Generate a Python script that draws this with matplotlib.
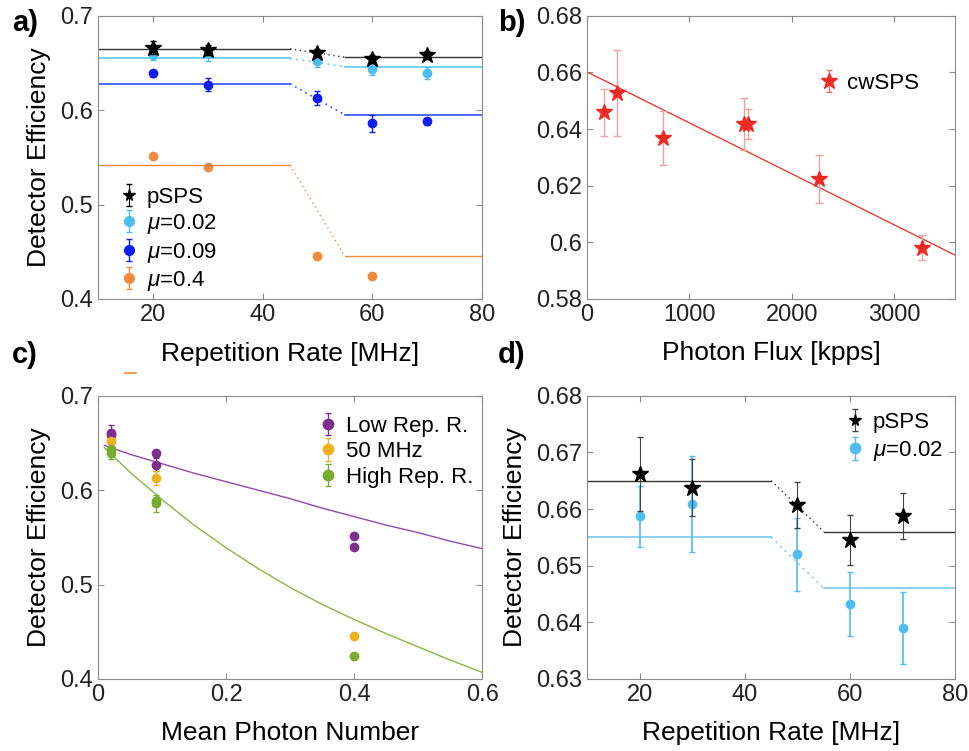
import numpy as np
import matplotlib
matplotlib.use("Agg")
import matplotlib.pyplot as plt
from matplotlib.lines import Line2D

plt.rcParams['font.family'] = ['Liberation Sans', 'DejaVu Sans']
plt.rcParams['mathtext.fontset'] = 'custom'
plt.rcParams['mathtext.rm'] = 'Liberation Sans'
plt.rcParams['mathtext.it'] = 'Liberation Sans:italic'
plt.rcParams['xtick.direction'] = 'in'
plt.rcParams['ytick.direction'] = 'in'

# ---- data ----
rate = [20, 30, 50, 60, 70]
psps = [0.6662, 0.6638, 0.6607, 0.6545, 0.6588]
psps_err = [0.0066, 0.0050, 0.0040, 0.0044, 0.0041]
mu002 = [0.6587, 0.6609, 0.6520, 0.6432, 0.6390]
mu002_err = [0.0054, 0.0085, 0.0064, 0.0057, 0.0063]
mu009 = [0.639, 0.627, 0.6125, 0.586, 0.588]
mu009_err = [0.004, 0.007, 0.0075, 0.009, 0.004]
rate_04 = [20, 30, 50, 60]
mu04 = [0.551, 0.540, 0.4455, 0.4247]
mu04_err = [0.002, 0.002, 0.003, 0.002]

# plateau levels (low rate, high rate) and transition points
step_x = [10, 45, 55, 80]
psps_lvl = [0.665, 0.656]
mu002_lvl = [0.655, 0.646]
mu009_lvl = [0.628, 0.595]
mu04_lvl = [0.542, 0.445]

# cw source
flux = [163, 296, 746, 1531, 1573, 2270, 3274]
cw_eff = [0.6459, 0.6526, 0.6368, 0.6418, 0.6418, 0.6224, 0.5981]
cw_err = [0.0083, 0.0152, 0.0094, 0.0093, 0.0052, 0.0086, 0.0045]
flux_fit = [0, 3600]
eff_fit = [0.6602, 0.5954]

# mean photon number
mu_vals = [0.02, 0.09, 0.4]
curve_mu = [0.01, 0.05, 0.1, 0.15, 0.2, 0.25, 0.3, 0.35, 0.4, 0.45, 0.5,
            0.55, 0.6]
low_curve = [0.6475, 0.638, 0.628, 0.618, 0.609, 0.600, 0.591, 0.581,
             0.572, 0.563, 0.555, 0.546, 0.538]
high_curve = [0.645, 0.619, 0.590, 0.563, 0.539, 0.517, 0.497, 0.479,
              0.463, 0.448, 0.434, 0.420, 0.407]

c_black = '#000000'
c_cyan = '#4DBEEE'
c_blue = '#0A1EF0'
c_orange = '#F08A3C'
c_red = '#EE2A24'
c_purple = '#7E2F8E'
c_yellow = '#EDB120'
c_green = '#77AC30'

fig = plt.figure(figsize=(9.7, 7.51), dpi=100)
ax_a = fig.add_axes([0.101, 0.602, 0.396, 0.377])
ax_b = fig.add_axes([0.605, 0.602, 0.380, 0.377])
ax_c = fig.add_axes([0.101, 0.096, 0.396, 0.377])
ax_d = fig.add_axes([0.605, 0.096, 0.380, 0.377])


def style(ax):
    for s in ax.spines.values():
        s.set_color('#8c8c8c')
        s.set_linewidth(0.8)
    ax.tick_params(labelsize=17, colors='#8c8c8c', labelcolor='#222222',
                   length=4, width=0.8, top=True, right=True)
    ax.xaxis.set_major_formatter(plt.FuncFormatter(lambda v, p: f'{v:g}'))
    ax.yaxis.set_major_formatter(plt.FuncFormatter(lambda v, p: f'{v:g}'))
    ax.xaxis.label.set_va('center')
    ax.yaxis.label.set_va('center')


def steps(ax, lvl, color, lw=1.0):
    ax.plot(step_x[0:2], [lvl[0], lvl[0]], color=color, lw=lw)
    ax.plot(step_x[1:3], lvl, color=color, lw=lw, ls=(0, (1, 2.5)))
    ax.plot(step_x[2:4], [lvl[1], lvl[1]], color=color, lw=lw)


def proxy(ax, fmt, color, ms, label, ecolor=None, lw=1.0):
    # legend-only handle with its own marker size
    return ax.errorbar([np.nan], [np.nan], yerr=[1], fmt=fmt, color=color,
                       ms=ms, ecolor=ecolor, capsize=2.5, elinewidth=lw,
                       label=label)


# ---- a) ----
steps(ax_a, psps_lvl, '#333333')
steps(ax_a, mu002_lvl, '#6CCBF2', lw=1.3)
steps(ax_a, mu009_lvl, '#3050F0', lw=1.2)
steps(ax_a, mu04_lvl, c_orange)
ax_a.errorbar(rate, mu002, yerr=mu002_err, fmt='o', color=c_cyan, ms=6,
              capsize=2.5, elinewidth=1, zorder=3)
ax_a.errorbar(rate, mu009, yerr=mu009_err, fmt='o', color=c_blue, ms=6,
              capsize=2.5, elinewidth=1, zorder=3)
ax_a.errorbar(rate_04, mu04, yerr=mu04_err, fmt='o', color=c_orange, ms=6,
              capsize=2.5, elinewidth=1, zorder=3)
ax_a.errorbar(rate, psps, yerr=psps_err, fmt='*', color=c_black, ms=12,
              capsize=2.5, elinewidth=0.8, zorder=4)
hs = [proxy(ax_a, '*', c_black, 8.5, 'pSPS', lw=0.8),
      proxy(ax_a, 'o', c_cyan, 7, r'$\mu$=0.02'),
      proxy(ax_a, 'o', c_blue, 7, r'$\mu$=0.09'),
      proxy(ax_a, 'o', c_orange, 7, r'$\mu$=0.4')]
ax_a.legend(handles=hs, loc='lower left', bbox_to_anchor=(0.005, -0.05),
            frameon=False, fontsize=16, handlelength=0.8, handletextpad=0.4,
            labelspacing=0.2)
ax_a.set_xlim(10, 80)
ax_a.set_ylim(0.4, 0.7)
ax_a.set_xticks([20, 40, 60, 80])
ax_a.set_yticks([0.4, 0.5, 0.6, 0.7])
ax_a.set_xlabel('Repetition Rate [MHz]', fontsize=19)
ax_a.set_ylabel('Detector Efficiency', fontsize=19)
style(ax_a)
ax_a.xaxis.set_label_coords(0.5, -0.195)
ax_a.yaxis.set_label_coords(-0.154, 0.5)

# ---- b) ----
ax_b.plot(flux_fit, eff_fit, color=c_red, lw=0.9)
ax_b.errorbar(flux, cw_eff, yerr=cw_err, fmt='*', color=c_red, ms=12,
              ecolor='#F4A0A0', capsize=3, elinewidth=1)
hb = [proxy(ax_b, '*', c_red, 12, 'cwSPS', ecolor='#F07070')]
ax_b.legend(handles=hb, loc='upper right', bbox_to_anchor=(0.955, 0.87),
            frameon=False, fontsize=16, handlelength=0.8, handletextpad=0.4)
ax_b.set_xlim(0, 3600)
ax_b.set_ylim(0.58, 0.68)
ax_b.set_xticks([0, 1000, 2000, 3000])
ax_b.set_yticks([0.58, 0.6, 0.62, 0.64, 0.66, 0.68])
ax_b.set_xlabel('Photon Flux [kpps]', fontsize=19)
style(ax_b)
ax_b.xaxis.set_label_coords(0.5, -0.19)

# ---- c) ----
ax_c.plot(curve_mu, low_curve, color='#9547AE', lw=1.0)
ax_c.plot(curve_mu, high_curve, color='#86B840', lw=1.0)
low_x = [mu_vals[0]] * 2 + [mu_vals[1]] * 2 + [mu_vals[2]] * 2
low_y = mu002[0:2] + mu009[0:2] + mu04[0:2]
low_e = mu002_err[0:2] + mu009_err[0:2] + mu04_err[0:2]
mid_y = [mu002[2], mu009[2], mu04[2]]
mid_e = [mu002_err[2], mu009_err[2], mu04_err[2]]
high_x = [mu_vals[0]] * 2 + [mu_vals[1]] * 2 + [mu_vals[2]]
high_y = mu002[3:5] + mu009[3:5] + mu04[3:4]
high_e = mu002_err[3:5] + mu009_err[3:5] + mu04_err[3:4]
ax_c.errorbar(low_x, low_y, yerr=low_e, fmt='o', color=c_purple, ms=6,
              capsize=2.5, elinewidth=1)
ax_c.errorbar(mu_vals, mid_y, yerr=mid_e, fmt='o', color=c_yellow, ms=6,
              capsize=2.5, elinewidth=1)
ax_c.errorbar(high_x, high_y, yerr=high_e, fmt='o', color=c_green, ms=6,
              capsize=2.5, elinewidth=1)
hc = [proxy(ax_c, 'o', c_purple, 7.5, 'Low Rep. R.'),
      proxy(ax_c, 'o', c_yellow, 7.5, '50 MHz'),
      proxy(ax_c, 'o', c_green, 7.5, 'High Rep. R.')]
ax_c.legend(handles=hc, loc='upper right', bbox_to_anchor=(1.03, 1.0),
            frameon=False, fontsize=16, handlelength=0.8, handletextpad=0.4,
            labelspacing=0.2)
ax_c.set_xlim(0, 0.6)
ax_c.set_ylim(0.4, 0.7)
ax_c.set_xticks([0, 0.2, 0.4, 0.6])
ax_c.set_yticks([0.4, 0.5, 0.6, 0.7])
ax_c.set_xlabel('Mean Photon Number', fontsize=19)
ax_c.set_ylabel('Detector Efficiency', fontsize=19)
style(ax_c)
ax_c.xaxis.set_label_coords(0.5, -0.19)
ax_c.yaxis.set_label_coords(-0.154, 0.5)

# ---- d) ----
steps(ax_d, psps_lvl, '#333333')
steps(ax_d, mu002_lvl, '#7FCFEA', lw=1.3)
ax_d.errorbar(rate, mu002, yerr=mu002_err, fmt='o', color=c_cyan, ms=6,
              capsize=2.5, elinewidth=1.2, zorder=3)
ax_d.errorbar(rate, psps, yerr=psps_err, fmt='*', color=c_black, ms=12,
              ecolor='#444444', capsize=2.5, elinewidth=0.8, zorder=4)
hd = [proxy(ax_d, '*', c_black, 8.5, 'pSPS', ecolor='#444444', lw=0.8),
      proxy(ax_d, 'o', c_cyan, 7.5, r'$\mu$=0.02')]
ax_d.legend(handles=hd, loc='upper right', bbox_to_anchor=(1.02, 1.015),
            frameon=False, fontsize=16, handlelength=0.8, handletextpad=0.4,
            labelspacing=0.3)
ax_d.set_xlim(10, 80)
ax_d.set_ylim(0.63, 0.68)
ax_d.set_xticks([20, 40, 60, 80])
ax_d.set_yticks([0.63, 0.64, 0.65, 0.66, 0.67, 0.68])
ax_d.set_xlabel('Repetition Rate [MHz]', fontsize=19)
ax_d.set_ylabel('Detector Efficiency', fontsize=19)
style(ax_d)
ax_d.xaxis.set_label_coords(0.5, -0.19)
ax_d.yaxis.set_label_coords(-0.195, 0.5)

# panel letters
for txt, x, y in [('a)', 0.012, 0.97), ('b)', 0.513, 0.97),
                  ('c)', 0.012, 0.527), ('d)', 0.513, 0.527)]:
    fig.text(x, y, txt, fontsize=21, fontweight='bold', ha='left', va='center')

# small stray orange legend mark below panel a
fig.add_artist(Line2D([125 / 970, 136 / 970], [1 - 373 / 751] * 2,
                      color=c_orange, lw=1.2))

fig.savefig('out.png', dpi=100)
